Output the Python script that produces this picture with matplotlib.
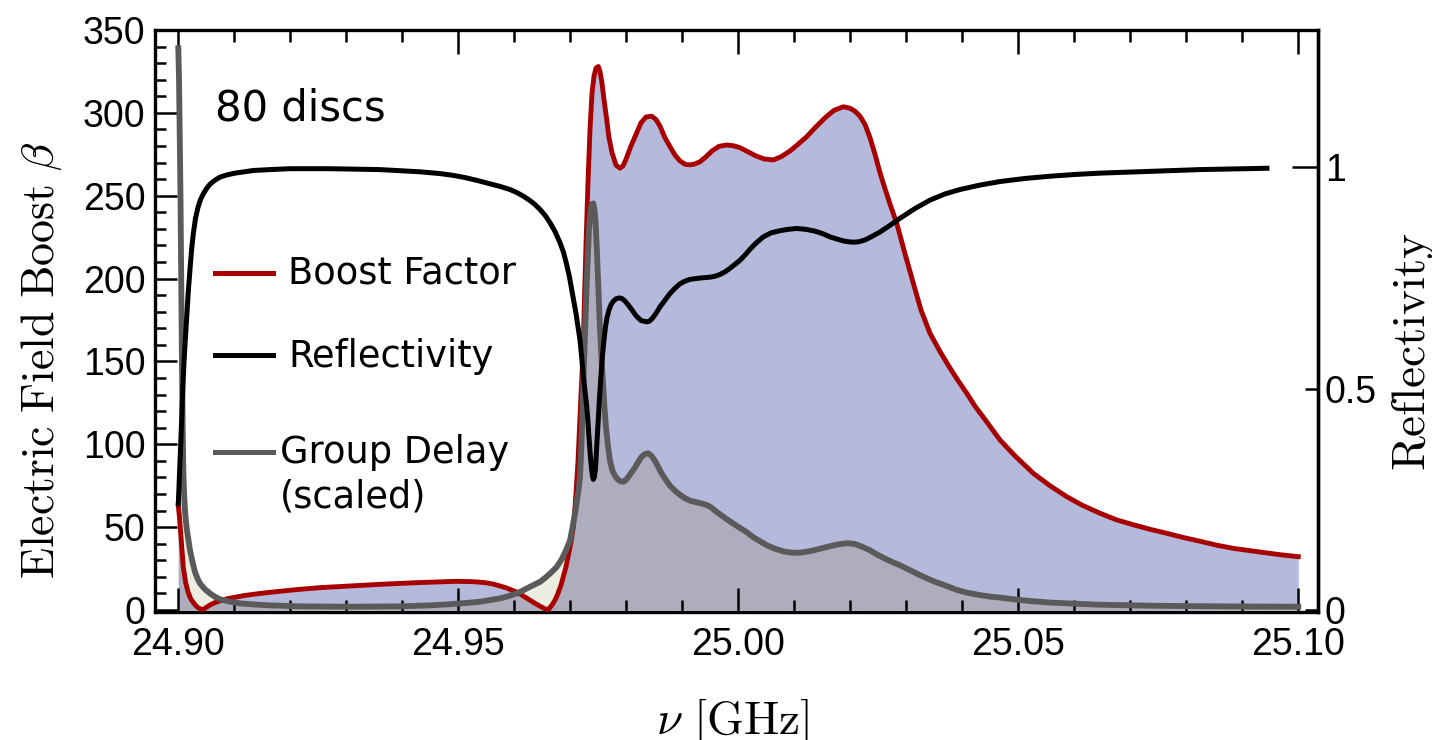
import numpy as np
import matplotlib
matplotlib.use("Agg")
import matplotlib.pyplot as plt
from matplotlib.lines import Line2D

plt.rcParams['mathtext.fontset'] = 'cm'

# ---------------- data ----------------
# frequencies given as MHz above 24.90 GHz
F0_GHZ = 24.90

boost_mhz = [0, 0.21, 0.48, 0.89, 1.29, 1.73, 2.18, 2.68, 3.16, 3.61, 4.05, 4.46, 4.95, 5.66,
             6.55, 7.45, 8.52, 9.82, 11.91, 14.59, 18.75, 21.73, 25.30, 30.66, 36.02, 42.57,
             46.73, 49.41, 51.50, 53.16, 54.77, 56.20, 57.45, 58.52, 59.59, 60.66, 61.61,
             62.63, 63.70, 64.59, 65.30, 65.84, 66.07, 66.38, 66.73, 67.27, 67.80, 68.34,
             68.75, 69.23, 69.59, 70.13, 70.54, 70.84, 71.11, 71.38, 71.64, 71.91, 72.13,
             72.32, 72.55, 72.80, 73.16, 73.52, 73.88, 74.23, 74.59, 75.00, 75.30, 75.66,
             76.02, 76.50, 76.91, 77.45, 78.16, 78.88, 79.41, 79.95, 80.84, 81.86, 82.63,
             83.52, 84.54, 85.30, 86.02, 86.91, 87.80, 88.70, 89.59, 90.48, 91.38, 92.27,
             93.16, 94.23, 95.30, 96.55, 97.93, 99.05, 100.30, 101.73, 103.16, 104.59, 106.25,
             107.63, 109.23, 110.66, 112.21, 113.70, 115.48, 117.09, 118.75, 119.95, 120.84,
             121.73, 122.63, 123.52, 124.41, 125.30, 125.89, 127.09, 128.29, 129.77, 131.25,
             132.63, 134.23, 136.02, 137.80, 139.23, 140.79, 142.27, 144.05, 146.73, 149.41,
             152.68, 155.66, 158.64, 161.55, 164.59, 167.45, 170.48, 173.52, 176.50, 179.41,
             182.45, 185.30, 188.39, 191.38, 194.23, 196.91, 200.0]
boost_val = [63, 56, 44, 26, 17, 11, 7, 4.5, 2.5, 1.2, 0.5, 0.3, 1.5, 3,
             4.5, 5.5, 6.6, 7.5, 8.8, 10, 11.5, 12.5, 13.5, 14.5, 15.5, 16.5,
             17, 17.3, 17.2, 17, 16.5, 15.7, 14.5, 13.4, 12, 10.5, 8.5,
             6.3, 4, 2.3, 1, 0.3, 0.2, 1.5, 3, 6, 10, 15,
             20, 26, 32, 41, 50, 62, 75, 90, 110, 130, 145,
             160, 190, 220, 258, 290, 312, 322, 327, 328, 325, 318,
             308, 296, 285, 276, 268.5, 266.6, 268, 272, 280, 288, 294,
             297.5, 298, 296, 292, 285, 279.6, 274.5, 271, 269, 268.6, 269.2,
             270.5, 273.5, 277, 279.8, 280.6, 280.2, 279, 276.5, 274, 272.2, 271.6,
             273.5, 277, 281, 285.6, 291, 297, 301.5, 303.7, 302.8, 301,
             298, 293, 285, 275, 264, 257.5, 245, 233.4, 215, 197.2,
             181, 167, 156, 146, 138.5, 130.8, 123, 115, 102.6, 93,
             82.5, 75, 68.4, 63, 58.4, 54.5, 51.5, 48.7, 46.3, 43.8,
             41.5, 39.2, 37.2, 35.8, 34.5, 33.3, 32.2]

refl_mhz = [0, 0.13, 0.30, 0.48, 0.66, 0.84, 1.02, 1.25, 1.50, 1.79, 2.09, 2.38, 2.68, 3.07,
            3.52, 3.96, 4.46, 5.04, 5.66, 6.55, 7.45, 8.70, 10.13, 11.73, 13.39, 16.38, 19.95,
            27.09, 36.02, 43.16, 46.73, 49.05, 51.20, 53.52, 55.66, 57.45, 59.23, 60.48,
            61.61, 62.80, 63.70, 64.59, 65.48, 66.38, 67.27, 68.16, 68.79, 69.36, 69.86,
            70.30, 70.66, 71.02, 71.38, 71.73, 72.04, 72.32, 72.63, 72.93, 73.16, 73.34,
            73.57, 73.79, 73.96, 74.11, 74.29, 74.50, 74.71, 74.95, 75.21, 75.48, 75.75,
            76.02, 76.29, 76.55, 76.91, 77.27, 77.71, 78.16, 78.70, 79.18, 79.77, 80.30,
            81.02, 81.73, 82.63, 83.64, 84.05, 84.59, 85.30, 86.02, 86.91, 87.80, 88.70,
            89.59, 90.48, 91.38, 93.16, 94.95, 95.84, 96.73, 97.63, 98.52, 99.41, 100.30,
            101.20, 102.09, 103.16, 104.46, 105.84, 107.45, 108.88, 110.43, 112.09, 113.70,
            115.13, 116.38, 117.63, 118.70, 119.59, 120.54, 121.55, 122.63, 123.88, 125.30,
            127.09, 128.88, 131.55, 134.23, 136.91, 139.59, 143.16, 146.73, 151.20, 155.66,
            160.13, 164.59, 173.52, 182.45, 194.41]
refl_val = [0.24, 0.28, 0.33, 0.39, 0.45, 0.51, 0.56, 0.61, 0.66, 0.72, 0.77, 0.815, 0.85, 0.885,
            0.91, 0.927, 0.94, 0.952, 0.962, 0.971, 0.978, 0.983, 0.987, 0.99, 0.993, 0.995, 0.997,
            0.997, 0.995, 0.99, 0.986, 0.982, 0.977, 0.97, 0.963, 0.957, 0.95, 0.943,
            0.935, 0.925, 0.916, 0.905, 0.892, 0.875, 0.855, 0.83, 0.808, 0.78, 0.752,
            0.72, 0.695, 0.67, 0.64, 0.61, 0.57, 0.53, 0.495, 0.46, 0.425, 0.39,
            0.35, 0.32, 0.302, 0.295, 0.30, 0.32, 0.365, 0.42, 0.478, 0.53, 0.575,
            0.61, 0.64, 0.66, 0.678, 0.69, 0.698, 0.703, 0.705, 0.704, 0.698, 0.69,
            0.678, 0.665, 0.654, 0.651, 0.652, 0.658, 0.67, 0.685, 0.70, 0.715, 0.727,
            0.737, 0.743, 0.747, 0.75, 0.752, 0.754, 0.758, 0.764, 0.772, 0.781, 0.79,
            0.802, 0.815, 0.829, 0.843, 0.852, 0.857, 0.86, 0.862, 0.86, 0.856,
            0.85, 0.843, 0.838, 0.834, 0.832, 0.831, 0.832, 0.836, 0.844, 0.854,
            0.869, 0.885, 0.907, 0.926, 0.94, 0.95, 0.96, 0.968, 0.975, 0.98,
            0.984, 0.987, 0.991, 0.995, 0.998]

delay_mhz = [0, 0.13, 0.21, 0.30, 0.39, 0.48, 0.57, 0.66, 0.75, 0.84, 0.93, 1.05, 1.20, 1.38,
             1.55, 1.82, 2.09, 2.54, 2.98, 3.43, 3.88, 4.77, 5.66, 6.55, 7.45, 9.23, 11.02,
             13.70, 16.38, 21.73, 30.66, 39.59, 44.95, 48.52, 51.20, 53.88, 55.66, 57.45,
             58.88, 60.43, 61.55, 62.80, 63.70, 64.59, 65.48, 66.38, 67.00, 67.57, 68.07,
             68.52, 68.88, 69.23, 69.59, 69.95, 70.30, 70.66, 70.93, 71.20, 71.46, 71.73,
             71.91, 72.09, 72.27, 72.45, 72.68, 72.93, 73.16, 73.34, 73.52, 73.70, 73.91,
             74.11, 74.30, 74.50, 74.71, 74.95, 75.13, 75.30, 75.57, 75.84, 76.11, 76.38,
             76.73, 77.09, 77.54, 77.98, 78.43, 78.88, 79.46, 79.86, 80.30, 80.93, 81.55,
             82.09, 82.63, 83.25, 83.93, 84.50, 85.13, 85.75, 86.38, 87.09, 87.80, 88.70,
             89.59, 90.48, 91.38, 92.27, 93.16, 94.36, 95.13, 95.84, 96.73, 97.63, 98.52,
             99.41, 100.30, 101.50, 102.63, 103.88, 105.13, 106.55, 108.16, 109.82, 111.20,
             112.80, 114.59, 116.38, 117.80, 119.05, 119.95, 120.84, 122.09, 123.52, 124.77,
             126.20, 127.45, 128.88, 130.66, 132.45, 134.77, 137.21, 138.88, 140.79, 143.16,
             144.95, 146.73, 149.71, 152.63, 155.66, 160.13, 164.59, 173.52, 182.45, 191.38,
             200.0]
delay_val = [339, 320, 300, 275, 250, 215, 180, 148, 120, 95, 80, 69, 60, 53,
             48, 42, 36, 29, 23, 19, 16, 12.5, 10, 8, 6.5, 5, 4,
             3.3, 2.8, 2.2, 2, 2.2, 2.8, 3.5, 4.2, 5, 6, 7,
             8.3, 10, 11.8, 14, 15.5, 17, 19.3, 22, 24, 26, 28.5,
             31, 33.5, 36, 39, 42, 48, 55, 60, 66, 72, 80,
             93, 110, 130, 150, 172, 197, 216, 230, 237, 243, 245,
             245.4, 242, 235, 220, 200, 185, 170, 152, 137, 122, 110,
             99, 90, 84, 81, 79, 77.8, 77.4, 78.2, 80, 83, 86,
             89, 92, 94, 94.6, 93, 90, 86, 82, 78.5, 75, 72,
             69.5, 67.5, 66, 65.2, 64.5, 63.4, 62, 60, 57.8, 55.5, 53.5,
             51.5, 49.5, 47, 44, 41.5, 39, 37, 35.3, 34.5, 34.7,
             35.5, 37, 38.5, 39.6, 40.2, 40.2, 39.8, 38.2, 36, 33.5,
             31, 29, 27, 24, 21, 17.5, 14.5, 12.3, 10.5, 9,
             8.1, 7.5, 6.2, 5.3, 4.5, 3.8, 3.2, 2.6, 2.3, 2.1,
             2]

x_ticks = [24.90, 24.95, 25.00, 25.05, 25.10]
x_tick_labels = ["24.90", "24.95", "25.00", "25.05", "25.10"]
y_ticks = [0, 50, 100, 150, 200, 250, 300, 350]
r_ticks = [0, 0.5]
r_tick_labels = ["0", "0.5"]

boost_x = F0_GHZ + np.array(boost_mhz) / 1000.0
refl_x = F0_GHZ + np.array(refl_mhz) / 1000.0
delay_x = F0_GHZ + np.array(delay_mhz) / 1000.0

# ---------------- styling ----------------
RED = "#a80000"
GRAY = "#5a5a5a"
PURPLE = "#b5b9db"
GRAYPURPLE = "#adadbe"
BEIGE = "#edece0"

fig = plt.figure(figsize=(14.32, 7.40), dpi=100)
ax = fig.add_axes([155/1432, 1-612/740, (1318-155)/1432, (612-30)/740])

XMIN, XMAX = 24.89584, 25.10352
YMIN, YMAX = -1.2, 350
RSCALE = 267.1

# fills
ax.fill_between(delay_x, 0, delay_val, color=BEIGE, lw=0, zorder=1)
pf = ax.fill_between(boost_x, 0, boost_val, color=PURPLE, lw=0, zorder=1.1)
gf = ax.fill_between(delay_x, 0, delay_val, color=GRAYPURPLE, lw=0, zorder=1.2)
gf.set_clip_path(pf.get_paths()[0], ax.transData)

ax.plot(boost_x, boost_val, color=RED, lw=3.5, zorder=3, solid_joinstyle='round')
ax.plot(delay_x, delay_val, color=GRAY, lw=4.2, zorder=3.5, solid_joinstyle='round')

ax.set_xlim(XMIN, XMAX)
ax.set_ylim(YMIN, YMAX)

ax.set_xticks(x_ticks)
ax.set_xticklabels(x_tick_labels)
ax.set_xticks(np.arange(24.90, 25.1001, 0.01), minor=True)
ax.set_yticks(y_ticks)
ax.set_yticks(np.arange(0, 351, 10), minor=True)

for lab in ax.get_xticklabels() + ax.get_yticklabels():
    lab.set_fontfamily('Liberation Sans')
    lab.set_fontsize(27)

ax.tick_params(axis='x', which='major', direction='in', length=17, width=1.8,
               top=True, bottom=True, pad=11)
ax.tick_params(axis='x', which='minor', direction='in', length=8.5, width=1.8,
               top=True, bottom=True)
ax.tick_params(axis='y', which='major', direction='in', length=16, width=1.8,
               left=True, right=False, pad=7)
ax.tick_params(axis='y', which='minor', direction='in', length=8, width=1.8,
               left=True, right=False)
for s in ax.spines.values():
    s.set_linewidth(2.4)

# twin axis for reflectivity
ax2 = ax.twinx()
ax2.plot(refl_x, refl_val, color='black', lw=3.6, zorder=4, solid_joinstyle='round')
ax2.set_xlim(XMIN, XMAX)
ax2.set_ylim(YMIN/RSCALE, YMAX/RSCALE)
ax2.set_yticks(r_ticks)
ax2.set_yticklabels(r_tick_labels)
ax2.set_yticks([1.0], minor=True)
ax2.set_yticklabels(["1"], minor=True)
for lab in ax2.get_yticklabels() + ax2.get_yticklabels(minor=True):
    lab.set_fontfamily('Liberation Sans')
    lab.set_fontsize(27)
ax2.tick_params(axis='y', which='major', direction='in', length=9.5, width=1.8, pad=5)
ax2.tick_params(axis='y', which='minor', direction='in', length=19, width=1.8, pad=5)
for k in ['top', 'bottom', 'left']:
    ax2.spines[k].set_visible(False)
ax2.spines['right'].set_linewidth(2.4)

# text
ax.text(0.0516, 0.845, "80 discs", transform=ax.transAxes, fontsize=30,
        fontfamily='DejaVu Sans', va='baseline', ha='left', zorder=6)

# legend (manual)
leg = [(RED, 0.5825, 0.5648, "Boost Factor", 0.1144),
       ("black", 0.4416, 0.4215, "Reflectivity", 0.1144),
       (GRAY, 0.2749, 0.2565, "Group Delay", 0.1075)]
for col, yl, yt, txt, xt in leg:
    ax.add_line(Line2D([0.0516, 0.1015], [yl, yl], transform=ax.transAxes,
                       color=col, lw=3.6, zorder=6))
    ax.text(xt, yt, txt, transform=ax.transAxes, fontsize=26.5,
            fontfamily='DejaVu Sans', va='baseline', ha='left', zorder=6)
ax.text(0.1075, 0.1787, "(scaled)", transform=ax.transAxes, fontsize=26.5,
        fontfamily='DejaVu Sans', va='baseline', ha='left', zorder=6)

# axis labels
fig.text(42/1432, 1-360/740, r'$\mathrm{Electric\ Field\ Boost}\ \beta$',
         rotation=90, ha='center', va='center', fontsize=33)
fig.text(1413/1432, 1-352/740, r'$\mathrm{Reflectivity}$',
         rotation=90, ha='center', va='center', fontsize=34)
fig.text(733/1432, 1-722/740, r'$\nu\ [\mathrm{GHz}]$',
         ha='center', va='center', fontsize=34)

fig.savefig("out.png", dpi=100)
